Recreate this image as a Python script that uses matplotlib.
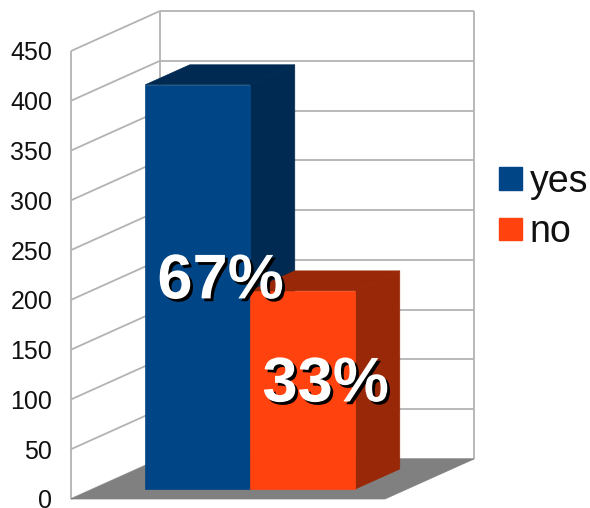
import matplotlib
matplotlib.use("Agg")
import matplotlib.pyplot as plt
import matplotlib.patheffects as pe
from matplotlib.patches import Patch
from matplotlib.transforms import ScaledTranslation

series = ["yes", "no"]
values = [406, 199]
percent_labels = ["67%", "33%"]
yticks = [0, 50, 100, 150, 200, 250, 300, 350, 400, 450]
front_colors = ["#004586", "#ff420e"]
side_colors = ["#002a51", "#992808"]

W, H = 590, 508
plt.rcParams["font.family"] = ["Liberation Sans", "DejaVu Sans"]
fig = plt.figure(figsize=(W / 100, H / 100), dpi=100)
ax = fig.add_axes([71 / W, (H - 499) / H, 314 / W, 448 / H])
ax.set_xlim(0, 1)
ax.set_ylim(0, 450)
ax.patch.set_visible(False)
for s in ax.spines.values():
    s.set_visible(False)

DX = 89 / 314      # full depth, in x units
DY = 40 / 448 * 450  # full depth, in y units
grid = "#b3b3b3"


def P(x, y, d=0.0):
    return x + DX * d, y + DY * d


def poly(points, color, z):
    xs, ys = zip(*[P(*p) for p in points])
    ax.fill(xs, ys, facecolor=color, edgecolor=color, lw=0.5, zorder=z, clip_on=False)


def line(a, b, z=1, lw=1.3):
    xa, ya = P(*a)
    xb, yb = P(*b)
    ax.plot([xa, xb], [ya, yb], color=grid, lw=lw, zorder=z, clip_on=False,
            solid_capstyle="butt")


# walls and gridlines
for v in yticks:
    line((0, v, 0), (0, v, 1))
    line((0, v, 1), (1, v, 1))
line((0, 0, 0), (0, 450, 0))
line((0, 0, 1), (0, 450, 1))
line((1, 0, 1), (1, 450, 1))

# floor
poly([(0, 0, 0), (1, 0, 0), (1, 0, 1), (0, 0, 1)], "#808080", 2)

# bars
bw = 105 / 314
d0, d1 = 0.25, 0.75
left = 0.5 - bw
for i, (val, fc, sc) in enumerate(zip(values, front_colors, side_colors)):
    x0 = left + i * bw
    x1 = x0 + bw
    z = 3 + i
    poly([(x0, val, d0), (x1, val, d0), (x1, val, d1), (x0, val, d1)], sc, z)
    poly([(x1, 0, d0), (x1, val, d0), (x1, val, d1), (x1, 0, d1)], sc, z)
    poly([(x0, 0, d0), (x1, 0, d0), (x1, val, d0), (x0, val, d0)], fc, z + 0.5)

# data labels
for i, (val, lab) in enumerate(zip(values, percent_labels)):
    x, y = P(left + (i + 0.5) * bw, val / 2, 0.5)
    ax.annotate(lab, (x, y), xytext=(0.5, -3.6), textcoords="offset points",
                ha="center", va="center", color="white", fontsize=45.5,
                fontweight="bold", zorder=10, annotation_clip=False,
                path_effects=[pe.withSimplePatchShadow(offset=(2, -2), shadow_rgbFace="black",
                                                       alpha=1.0)])

ax.set_xticks([])
ax.set_yticks(yticks)
ax.tick_params(axis="y", length=0, pad=13.5, labelsize=18, labelcolor="#111111")
for t in ax.get_yticklabels():
    t.set_verticalalignment("center_baseline")
# the reference's lowest label sits one pixel above its tick
zero_label = ax.get_yticklabels()[0]
zero_label.set_transform(zero_label.get_transform()
                         + ScaledTranslation(0, 1 / 100, fig.dpi_scale_trans))

handles = [Patch(facecolor=c, edgecolor=c, label=s) for c, s in zip(front_colors, series)]
fig.legend(handles=handles, loc="center left", bbox_to_anchor=(499 / W, (H - 207) / H),
           frameon=False, fontsize=27, handlelength=0.613, handleheight=0.56,
           handletextpad=0.213, labelspacing=0.39, borderpad=0, borderaxespad=0,
           labelcolor="#111111")

fig.savefig("out.png", dpi=100)
